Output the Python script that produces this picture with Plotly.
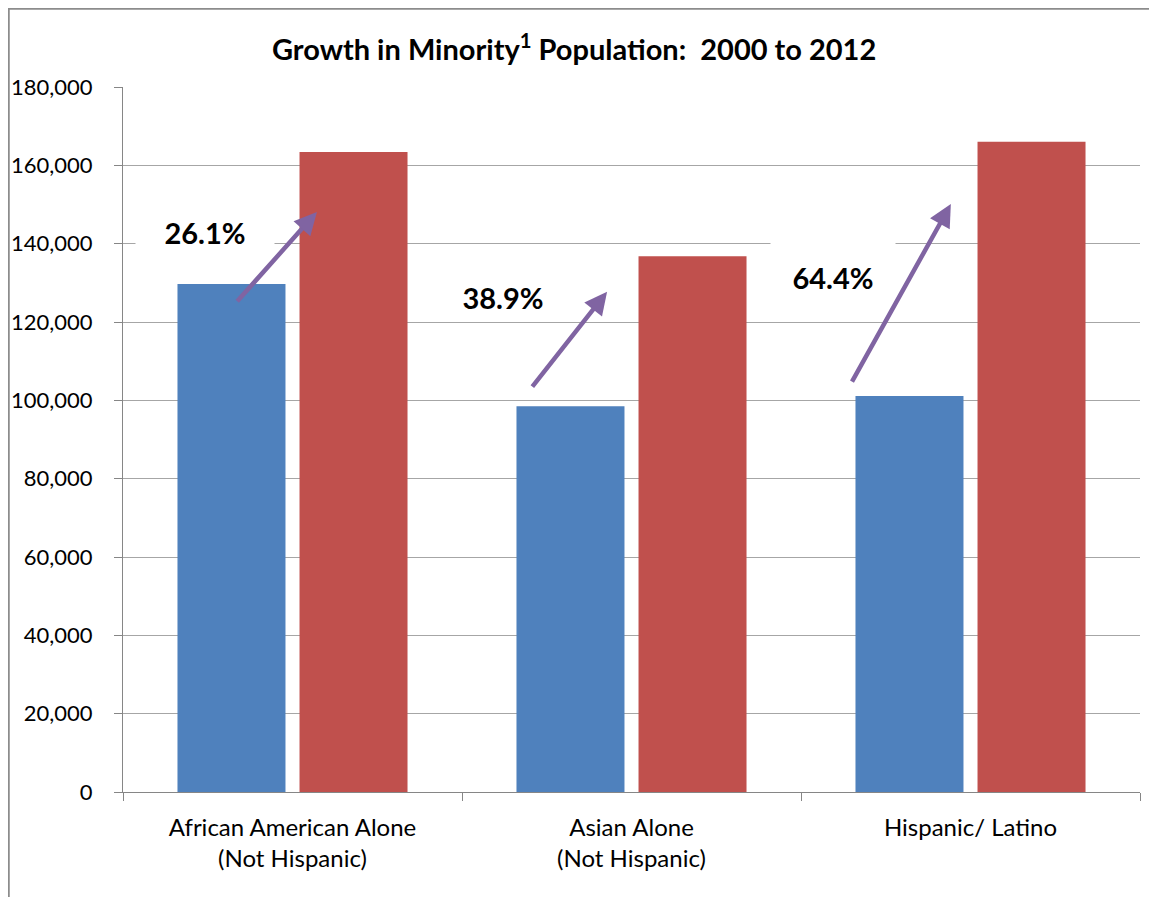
import plotly.graph_objects as go

categories = ["African American Alone<br>(Not Hispanic)", "Asian Alone<br>(Not Hispanic)", "Hispanic/ Latino"]
pop_2000 = [129700, 98500, 101100]
pop_2012 = [163400, 136800, 166000]
growth_labels = ["26.1%", "38.9%", "64.4%"]

# label positions (category index units, population units)
label_x = [-0.258, 0.621, 1.594]
label_y = [143000, 126400, 131500]
label_box_w = [138, 116, 124]
label_box_h = [40, 40, 74]
# arrow tail / head (category index units, population units)
arrow_tail_x = [-0.167, 0.704, 1.648]
arrow_tail_y = [124900, 103100, 104400]
arrow_head_x = [0.072, 0.928, 1.942]
arrow_head_y = [148100, 127700, 150100]

# page has an 8px body margin; compensate
OFF = 8
W, H = 1157 - OFF, 897 - OFF
L, R, T = 123 - OFF, 17, 87 - OFF
B = H - (792 - OFF)
PW = W - L - R
PH = H - T - B

fig = go.Figure()
fig.add_trace(go.Bar(x=categories, y=pop_2000, name="2000", marker_color="#4F81BD", marker_line_width=0))
fig.add_trace(go.Bar(x=categories, y=pop_2012, name="2012", marker_color="#C0504D", marker_line_width=0))

annotations = []
for i in range(3):
    annotations.append(dict(
        x=label_x[i], y=label_y[i], xref="x", yref="y", text="<b>%s</b>" % growth_labels[i],
        showarrow=False, font=dict(family="Lato", size=29, color="#000000"),
        bgcolor="white", width=label_box_w[i], height=label_box_h[i], borderpad=0,
        xanchor="center", yanchor="middle", align="center", valign="middle"))
for i in range(3):
    annotations.append(dict(
        x=arrow_head_x[i], y=arrow_head_y[i], ax=arrow_tail_x[i], ay=arrow_tail_y[i],
        xref="x", yref="y", axref="x", ayref="y", text="", showarrow=True,
        arrowhead=2, arrowsize=1.0, arrowwidth=4.5, arrowcolor="#8064A2"))

annotations.append(dict(
    x=(574 - 123) / 1017.0, y=(792 - 47) / 705.0, xref="paper", yref="paper",
    text="<b>Growth in Minority<sup>1</sup> Population:  2000 to 2012</b>",
    showarrow=False, font=dict(family="Lato", size=29, color="#000000"),
    xanchor="center", yanchor="middle"))

fig.update_layout(
    width=W, height=H,
    margin=dict(l=L, r=R, t=T, b=B, pad=0, autoexpand=False),
    paper_bgcolor="white", plot_bgcolor="white",
    barmode="group", bargap=0.28, bargroupgap=0.115,
    showlegend=False,
    annotations=annotations,
    font=dict(family="Lato", color="#000000"),
    shapes=[dict(type="rect", xref="paper", yref="paper",
                 x0=(0.5 - L) / PW, x1=(W + 20 - L) / PW,
                 y0=-(B + 20) / PH, y1=(PH + T - 0.5) / PH,
                 line=dict(color="#8C8C8C", width=2.5), fillcolor="rgba(0,0,0,0)", layer="below")],
)
fig.update_yaxes(
    range=[0, 180000], dtick=20000, tickformat=",", showgrid=True, automargin=False,
    gridcolor="#A6A6A6", gridwidth=1.3, showline=True, linecolor="#868686", linewidth=1.3,
    ticks="outside", ticklen=8, tickcolor="#868686", tickwidth=1.3,
    tickfont=dict(family="Lato", size=22, color="#000000"), ticklabelstandoff=17,
    zeroline=False)
fig.update_xaxes(
    showline=True, linecolor="#868686", linewidth=1.3, automargin=False,
    ticks="outside", ticklen=8, tickcolor="#868686", tickwidth=1.3, tickson="boundaries",
    tickfont=dict(family="Lato", size=24, color="#000000"), ticklabelstandoff=14)

fig.write_html("out.html")
